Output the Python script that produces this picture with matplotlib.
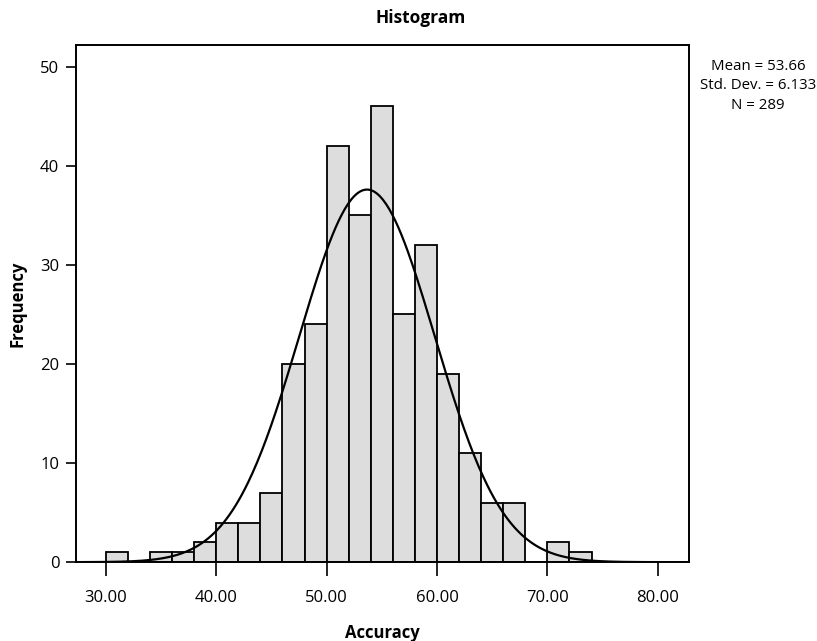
import matplotlib
matplotlib.use("Agg")
import matplotlib.pyplot as plt
import numpy as np

plt.rcParams['font.family'] = ['Open Sans', 'DejaVu Sans']

# histogram bins (width 2) and counts
bin_edges = [30, 32, 34, 36, 38, 40, 42, 44, 46, 48, 50, 52, 54, 56, 58,
             60, 62, 64, 66, 68, 70, 72, 74]
counts = [1, 0, 1, 1, 2, 4, 4, 7, 20, 24, 42, 35, 46, 25, 32,
          19, 11, 6, 6, 0, 2, 1]

mean = 53.66
std = 6.133
n = 289
xticks = [30, 40, 50, 60, 70, 80]
yticks = [0, 10, 20, 30, 40, 50]

fig = plt.figure(figsize=(8.17, 6.41), dpi=100)
ax = fig.add_axes([0.093, 0.123, 0.750, 0.807])

lefts = np.array(bin_edges[:-1])
widths = np.diff(bin_edges)
ax.bar(lefts, counts, width=widths, align='edge', color='#dddddd',
       edgecolor='black', linewidth=1.3, zorder=2)

# normal curve scaled to counts
xs = np.linspace(27.3, 82.8, 400)
bw = widths[0]
ys = n * bw / (std * np.sqrt(2 * np.pi)) * np.exp(-0.5 * ((xs - mean) / std) ** 2)
ax.plot(xs, ys, color='black', linewidth=1.6, zorder=3)

ax.set_xlim(27.3, 82.8)
ax.set_ylim(0, 52.2)
ax.set_xticks(xticks)
ax.set_xticklabels(["%.2f" % t for t in xticks])
ax.set_yticks(yticks)
ax.tick_params(axis='x', direction='out', length=10, width=1.2, labelsize=12, pad=10)
ax.tick_params(axis='y', direction='out', length=7, width=1.2, labelsize=12, pad=5)
for s in ax.spines.values():
    s.set_linewidth(1.4)

ax.set_xlabel("Accuracy", fontsize=12, fontweight='bold', labelpad=13)
ax.set_ylabel("Frequency", fontsize=12, fontweight='bold', labelpad=10)
fig.text(0.515, 0.972, "Histogram", fontsize=12.5, fontweight='bold',
         ha='center', va='center')
fig.text(0.928, 0.866, "Mean = %.2f\nStd. Dev. = %.3f\nN = %d" % (mean, std, n),
         fontsize=10.8, ha='center', va='center', linespacing=1.4)

fig.savefig("out.png", dpi=100)
